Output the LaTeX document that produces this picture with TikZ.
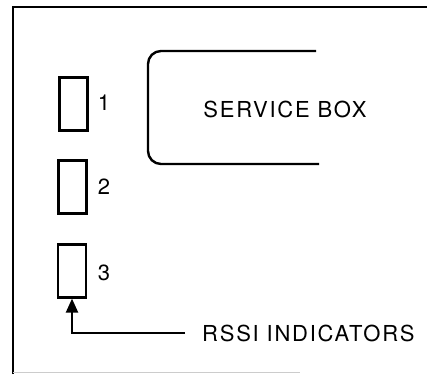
\documentclass[tikz,border=0pt]{standalone}
\usepackage{fontspec}
\setmainfont[LetterSpace=8]{TeX Gyre Heros}
\usetikzlibrary{arrows.meta}
\tikzset{
  ind/.style={draw, line width=2.2pt, minimum width=28pt, minimum height=53pt, inner sep=0pt},
  lbl/.style={font=\fontsize{22}{22}\selectfont, inner sep=2pt},
  frameline/.style={line width=2pt},
  conn/.style={line width=2.2pt, -{Triangle[length=14pt,width=12pt]}}
}
\begin{document}
\begin{tikzpicture}[x=1pt,y=1pt]
\useasboundingbox (0,0) rectangle (427,374);
% frame
\draw[frameline] (13,0) -- (13,367) -- (427,367);
\draw[line width=1pt, black!20] (13,2) -- (300,2);
% indicators
\node[ind] (b1) at (73.5,270) {};
\node[ind] (b2) at (72.5,187) {};
\node[ind] (b3) at (72,103) {};
\node[lbl] (l1) at (104,271) {1};
\node[lbl] (l2) at (104,187) {2};
\node[lbl] (l3) at (104,101) {3};
% service box
\draw[line width=2.4pt, rounded corners=13pt] (316,323) -- (148,323) -- (148,210) -- (319,210);
\node[lbl] (sb) at (285,265) {SERVICE BOX};
% RSSI
\node[lbl, anchor=west, inner sep=0pt] (rssi) at (202,41) {RSSI INDICATORS};
\coordinate (lineend) at (185,41);
\draw[conn] (lineend) -| (b3.south);
\end{tikzpicture}
\end{document}
